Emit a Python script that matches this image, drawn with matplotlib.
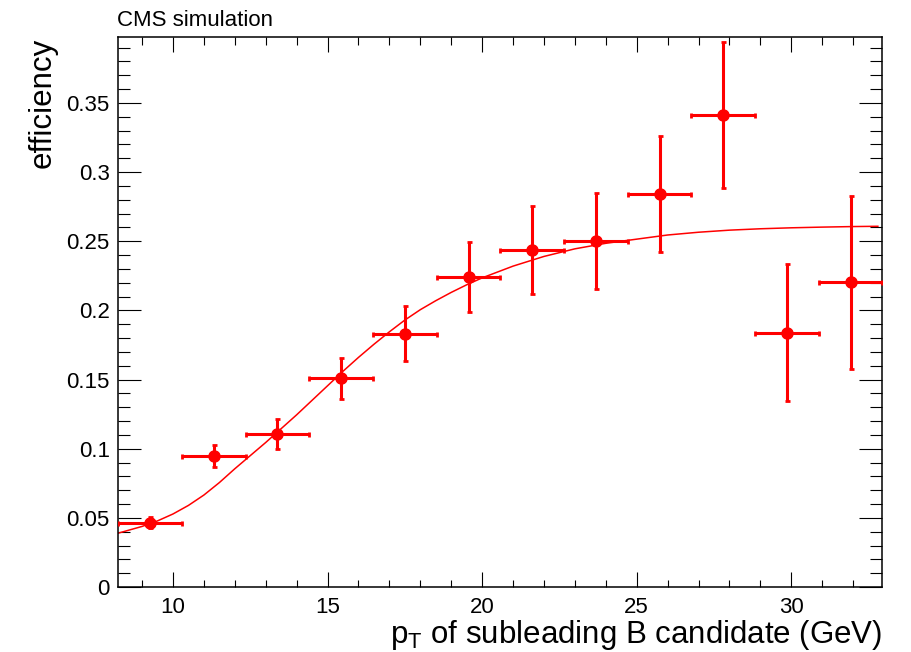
import matplotlib
matplotlib.use("Agg")
import matplotlib.pyplot as plt
from matplotlib.ticker import MultipleLocator

# bin centres (GeV) and half widths
pt = [9.26, 11.32, 13.38, 15.44, 17.50, 19.56, 21.62, 23.68, 25.74, 27.80, 29.86, 31.92]
pt_err = [1.03] * 12
eff = [0.0465, 0.0947, 0.1109, 0.1509, 0.1832, 0.2244, 0.2437, 0.2502, 0.2842, 0.3413, 0.1839, 0.2203]
eff_err = [0.0040, 0.0080, 0.0108, 0.0150, 0.0200, 0.0253, 0.0318, 0.0350, 0.0422, 0.0528, 0.0493, 0.0625]

# fitted turn-on curve
fit_x = [8.24, 9.0, 9.5, 10.0, 10.5, 11.0, 11.5, 12.0, 12.5, 13.0, 13.5, 14.0, 14.5,
         15.0, 15.5, 16.0, 16.5, 17.0, 17.5, 18.0, 18.5, 19.0, 19.5, 20.0, 21.0, 22.0,
         23.0, 24.0, 25.0, 26.0, 27.0, 28.0, 29.0, 30.0, 31.0, 32.0, 32.8]
fit_y = [0.039, 0.0438, 0.0478, 0.0528, 0.059, 0.0665, 0.0755, 0.0855, 0.095, 0.1045,
         0.1145, 0.1245, 0.135, 0.1455, 0.156, 0.166, 0.1755, 0.1845, 0.193, 0.2005,
         0.207, 0.213, 0.2185, 0.2235, 0.232, 0.239, 0.2445, 0.2485, 0.2515, 0.2545,
         0.2565, 0.258, 0.259, 0.2597, 0.2602, 0.2606, 0.2608]

plt.rcParams['font.family'] = ['Liberation Sans', 'DejaVu Sans']

fig = plt.figure(figsize=(9.11, 6.52), dpi=100)
ax = fig.add_axes([0.1295, 0.0997, 0.8392, 0.8428])

ax.plot(fit_x, fit_y, color='red', lw=1.1, zorder=2)
ax.errorbar(pt, eff, xerr=pt_err, yerr=eff_err, fmt='o', color='red', ms=8,
            elinewidth=2.2, capsize=1.8, capthick=2.0, zorder=3)

ax.set_xlim(8.22, 32.95)
ax.set_ylim(0, 0.3973)

ax.xaxis.set_major_locator(MultipleLocator(5))
ax.xaxis.set_minor_locator(MultipleLocator(1))
ax.yaxis.set_major_locator(MultipleLocator(0.05))
ax.yaxis.set_minor_locator(MultipleLocator(0.01))
ax.yaxis.set_major_formatter(plt.FuncFormatter(lambda v, p: '0' if v == 0 else ('%g' % round(v, 2))))

ax.tick_params(axis='both', which='both', direction='in', top=True, right=True,
               labelsize=16, width=0.8, color='black')
ax.tick_params(axis='x', which='major', length=10.8, pad=7)
ax.tick_params(axis='x', which='minor', length=5.4)
ax.tick_params(axis='y', which='major', length=16.5, pad=6)
ax.tick_params(axis='y', which='minor', length=8.3)
for s in ax.spines.values():
    s.set_linewidth(1.1)

ax.set_xlabel(r'p$_\mathregular{T}$ of subleading B candidate (GeV)', fontsize=22.5, loc='right', labelpad=0)
ax.set_ylabel('efficiency', fontsize=22.5, loc='top', labelpad=6)

fig.text(0.128, 0.952, 'CMS simulation', fontsize=16, ha='left', va='bottom')

fig.savefig('out.png', dpi=100)
